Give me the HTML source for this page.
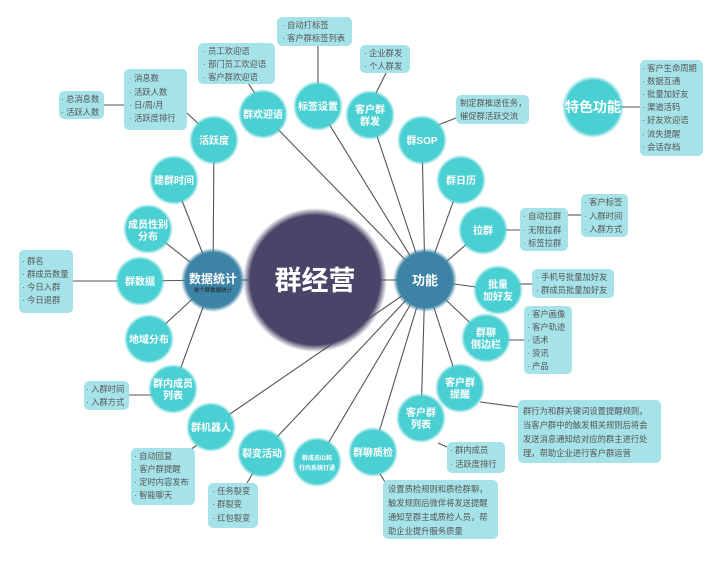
<!DOCTYPE html>
<html><head><meta charset="utf-8"><style>
html,body{margin:0;padding:0;background:#fff;width:712px;height:563px;overflow:hidden}
svg{display:block}
text{font-family:"Liberation Sans","Noto Sans CJK SC",sans-serif}
.w{fill:#fff;font-weight:bold;font-size:10px;text-anchor:middle}
.b{fill:#a6e3e9}
.t{fill:#555;font-size:8.3px}
line{stroke:#555;stroke-width:1.1}
</style></head><body>
<svg width="712" height="563" viewBox="0 0 712 563">
<defs>
<radialGradient id="g1"><stop offset="0.9" stop-color="#484569"/><stop offset="1" stop-color="#484569" stop-opacity="0"/></radialGradient>
<radialGradient id="g2"><stop offset="0.86" stop-color="#4acfd2"/><stop offset="1" stop-color="#4acfd2" stop-opacity="0"/></radialGradient>
<radialGradient id="g3"><stop offset="0.86" stop-color="#3c83a5"/><stop offset="1" stop-color="#3c83a5" stop-opacity="0"/></radialGradient>
</defs>
<g>
<line x1="213" y1="280" x2="425" y2="280" stroke-width="2"/>
<line x1="425" y1="280" x2="263" y2="114"/><line x1="425" y1="280" x2="318" y2="106"/><line x1="425" y1="280" x2="370" y2="115"/><line x1="425" y1="280" x2="422" y2="140"/><line x1="425" y1="280" x2="461" y2="180"/><line x1="425" y1="280" x2="483" y2="230"/><line x1="425" y1="280" x2="498" y2="290"/><line x1="425" y1="280" x2="486" y2="338"/><line x1="425" y1="280" x2="460" y2="388"/><line x1="425" y1="280" x2="421" y2="418"/><line x1="425" y1="280" x2="373" y2="452"/><line x1="425" y1="280" x2="317" y2="462"/><line x1="425" y1="280" x2="262" y2="453"/><line x1="425" y1="280" x2="211" y2="427"/>
<line x1="213" y1="280" x2="214" y2="140"/><line x1="213" y1="280" x2="174" y2="180"/><line x1="213" y1="280" x2="148" y2="229"/><line x1="213" y1="280" x2="140" y2="281"/><line x1="213" y1="280" x2="149" y2="339"/><line x1="213" y1="280" x2="173" y2="389"/>
<line x1="187" y1="113" x2="205" y2="130"/><line x1="104" y1="105" x2="124" y2="105"/><line x1="248" y1="83" x2="258" y2="98"/><line x1="318" y1="45" x2="318" y2="88"/><line x1="386" y1="73" x2="375" y2="95"/><line x1="438" y1="125" x2="456" y2="118"/><line x1="615" y1="107" x2="640" y2="107"/><line x1="503" y1="230" x2="520" y2="230"/><line x1="568" y1="215" x2="581" y2="215"/><line x1="518" y1="284" x2="532" y2="284"/><line x1="506" y1="340" x2="524" y2="340"/><line x1="480" y1="402" x2="518" y2="407"/><line x1="438" y1="443" x2="447" y2="447"/><line x1="380" y1="474" x2="385" y2="482"/><line x1="253" y1="473" x2="247" y2="483"/><line x1="197" y1="445" x2="190" y2="450"/><line x1="129" y1="395" x2="152" y2="395"/><line x1="73" y1="281" x2="118" y2="281"/>
</g>
<circle cx="315" cy="280" r="72" fill="url(#g1)"/>
<text x="315" y="290" fill="#fff" font-size="27" font-weight="bold" text-anchor="middle">群经营</text>
<circle cx="213" cy="280" r="32" fill="url(#g3)"/>
<text x="213" y="283" class="w" style="font-size:12px">数据统计</text>
<text x="213" y="292" fill="#222" font-size="5.5" text-anchor="middle">单个群数据统计</text>
<circle cx="425" cy="280" r="32" fill="url(#g3)"/>
<text x="425" y="285" class="w" style="font-size:13px">功能</text>
<circle cx="593" cy="107" r="31" fill="url(#g2)"/>
<text x="593" y="112" class="w" style="font-size:14px">特色功能</text>
<g fill="url(#g2)">
<circle cx="214" cy="140" r="25"/><circle cx="174" cy="180" r="25"/><circle cx="148" cy="229" r="25"/><circle cx="140" cy="281" r="25"/><circle cx="149" cy="339" r="25"/><circle cx="173" cy="389" r="25"/><circle cx="211" cy="427" r="25"/><circle cx="262" cy="453" r="25"/><circle cx="317" cy="462" r="25"/><circle cx="373" cy="452" r="25"/><circle cx="421" cy="418" r="25"/><circle cx="460" cy="388" r="25"/><circle cx="486" cy="338" r="25"/><circle cx="498" cy="290" r="25"/><circle cx="483" cy="230" r="25"/><circle cx="461" cy="180" r="25"/><circle cx="422" cy="140" r="25"/><circle cx="370" cy="115" r="25"/><circle cx="318" cy="106" r="25"/><circle cx="263" cy="114" r="25"/>
</g>
<g>
<text x="214" y="144" class="w">活跃度</text>
<text x="174" y="184" class="w">建群时间</text>
<text x="148" y="228" class="w">成员性别</text><text x="148" y="240" class="w">分布</text>
<text x="140" y="285" class="w">群数据</text>
<text x="149" y="343" class="w">地域分布</text>
<text x="173" y="387" class="w">群内成员</text><text x="173" y="399" class="w">列表</text>
<text x="211" y="431" class="w">群机器人</text>
<text x="262" y="457" class="w">裂变活动</text>
<text x="317" y="460" class="w" style="font-size:6px">群成员ID和</text><text x="317" y="470" class="w" style="font-size:6px">行内系统打通</text>
<text x="373" y="456" class="w">群聊质检</text>
<text x="421" y="416" class="w">客户群</text><text x="421" y="428" class="w">列表</text>
<text x="460" y="386" class="w">客户群</text><text x="460" y="398" class="w">提醒</text>
<text x="486" y="336" class="w">群聊</text><text x="486" y="348" class="w">侧边栏</text>
<text x="498" y="288" class="w">批量</text><text x="498" y="300" class="w">加好友</text>
<text x="483" y="234" class="w">拉群</text>
<text x="461" y="184" class="w">群日历</text>
<text x="422" y="144" class="w">群SOP</text>
<text x="370" y="113" class="w">客户群</text><text x="370" y="125" class="w">群发</text>
<text x="318" y="110" class="w">标签设置</text>
<text x="263" y="118" class="w">群欢迎语</text>
</g>
<g>
<rect class="b" x="277" y="17" width="75" height="29" rx="5"/><text class="t" x="282" y="28">· 自动打标签</text><text class="t" x="282" y="41">· 客户群标签列表</text>
<rect class="b" x="198" y="43" width="77" height="41" rx="5"/><text class="t" x="203" y="54">· 员工欢迎语</text><text class="t" x="203" y="67">· 部门员工欢迎语</text><text class="t" x="203" y="80">· 客户群欢迎语</text>
<rect class="b" x="124" y="69" width="63" height="61" rx="5"/><text class="t" x="129" y="81">· 消息数</text><text class="t" x="129" y="95">· 活跃人数</text><text class="t" x="129" y="108">· 日/周/月</text><text class="t" x="129" y="121">· 活跃度排行</text>
<rect class="b" x="59" y="91" width="45" height="28" rx="5"/><text class="t" x="61" y="102">· 总消息数</text><text class="t" x="61" y="115">· 活跃人数</text>
<rect class="b" x="360" y="45" width="50" height="28" rx="5"/><text class="t" x="364" y="56">· 企业群发</text><text class="t" x="364" y="69">· 个人群发</text>
<rect class="b" x="456" y="95" width="73" height="29" rx="5"/><text class="t" x="460" y="106">制定群推送任务，</text><text class="t" x="460" y="119">催促群活跃交流</text>
<rect class="b" x="640" y="60" width="63" height="96" rx="5"/>
<text class="t" x="642" y="71">· 客户生命周期</text><text class="t" x="642" y="84">· 数据互通</text><text class="t" x="642" y="97">· 批量加好友</text><text class="t" x="642" y="110">· 渠道活码</text><text class="t" x="642" y="123">· 好友欢迎语</text><text class="t" x="642" y="137">· 流失提醒</text><text class="t" x="642" y="150">· 会话存档</text>
<rect class="b" x="520" y="208" width="48" height="43" rx="5"/><text class="t" x="523" y="219">· 自动拉群</text><text class="t" x="523" y="233">· 无限拉群</text><text class="t" x="523" y="246">· 标签拉群</text>
<rect class="b" x="581" y="194" width="47" height="43" rx="5"/><text class="t" x="584" y="205">· 客户标签</text><text class="t" x="584" y="219">· 入群时间</text><text class="t" x="584" y="232">· 入群方式</text>
<rect class="b" x="532" y="269" width="82" height="29" rx="5"/><text class="t" x="536" y="280">· 手机号批量加好友</text><text class="t" x="536" y="293">· 群成员批量加好友</text>
<rect class="b" x="524" y="306" width="48" height="68" rx="5"/><text class="t" x="527" y="317">· 客户画像</text><text class="t" x="527" y="330">· 客户轨迹</text><text class="t" x="527" y="343">· 话术</text><text class="t" x="527" y="356">· 资讯</text><text class="t" x="527" y="369">· 产品</text>
<rect class="b" x="518" y="400" width="143" height="63" rx="5"/><text class="t" x="523" y="414">群行为和群关键词设置提醒规则，</text><text class="t" x="523" y="428">当客户群中的触发相关规则后将会</text><text class="t" x="523" y="442">发送消息通知给对应的群主进行处</text><text class="t" x="523" y="456">理，帮助企业进行客户群运营</text>
<rect class="b" x="447" y="442" width="58" height="31" rx="5"/><text class="t" x="450" y="453">· 群内成员</text><text class="t" x="450" y="467">· 活跃度排行</text>
<rect class="b" x="383" y="480" width="115" height="59" rx="5"/><text class="t" x="388" y="492">设置质检规则和质检群聊，</text><text class="t" x="388" y="506">触发规则后微伴将发送提醒</text><text class="t" x="388" y="520">通知至群主或质检人员，帮</text><text class="t" x="388" y="534">助企业提升服务质量</text>
<rect class="b" x="208" y="483" width="50" height="45" rx="5"/><text class="t" x="212" y="494">· 任务裂变</text><text class="t" x="212" y="507">· 群裂变</text><text class="t" x="212" y="521">· 红包裂变</text>
<rect class="b" x="131" y="448" width="64" height="57" rx="5"/><text class="t" x="134" y="459">· 自动回复</text><text class="t" x="134" y="472">· 客户群提醒</text><text class="t" x="134" y="485">· 定时内容发布</text><text class="t" x="134" y="498">· 智能聊天</text>
<rect class="b" x="84" y="381" width="45" height="29" rx="5"/><text class="t" x="86" y="392">· 入群时间</text><text class="t" x="86" y="405">· 入群方式</text>
<rect class="b" x="19" y="250" width="54" height="63" rx="5"/><text class="t" x="22" y="264">· 群名</text><text class="t" x="22" y="277">· 群成员数量</text><text class="t" x="22" y="290">· 今日入群</text><text class="t" x="22" y="303">· 今日退群</text>
</g>
</svg>
</body></html>
